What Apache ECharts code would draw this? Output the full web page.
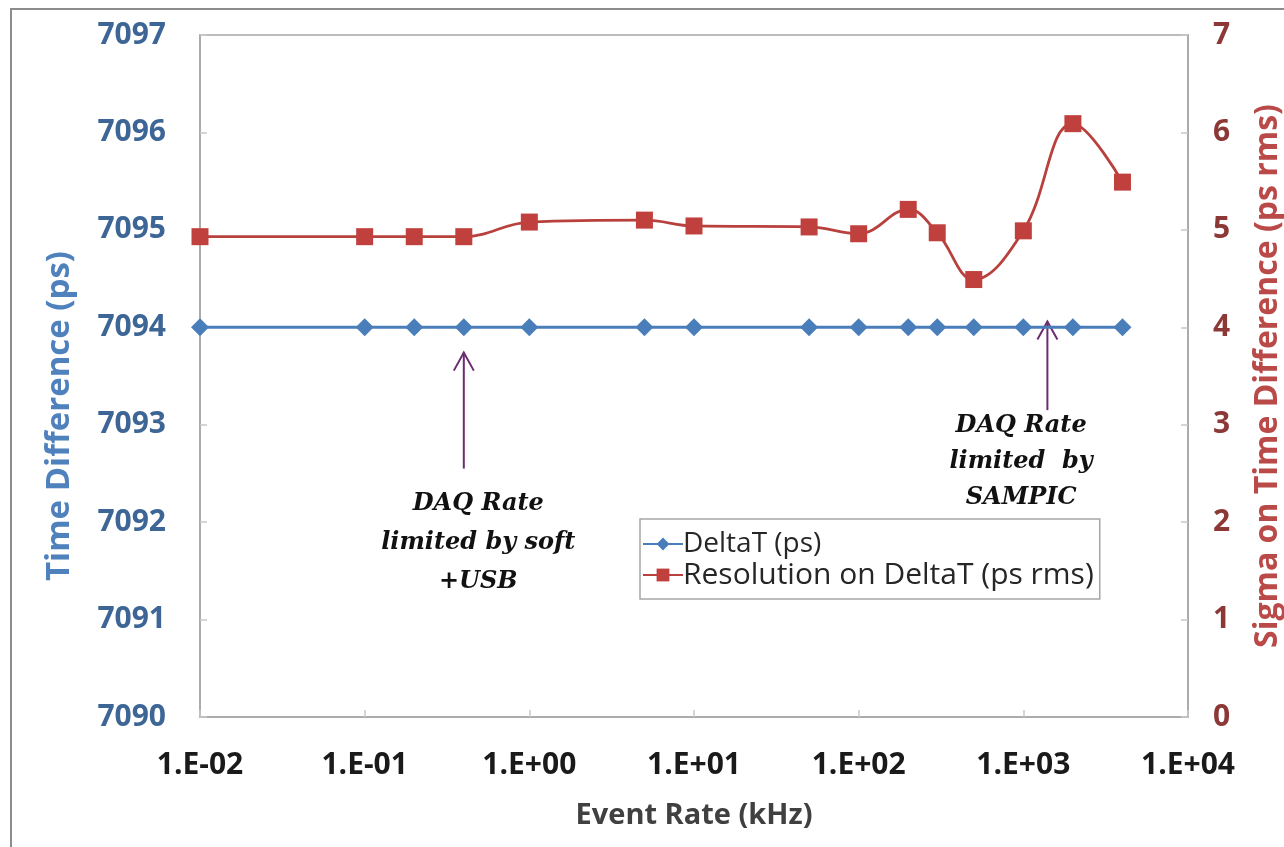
<!DOCTYPE html>
<html>
<head>
<meta charset="utf-8">
<script src="https://cdn.jsdelivr.net/npm/echarts@6/dist/echarts.min.js"></script>
<style>
  html, body { margin: 0; padding: 0; background: #ffffff; }
  #chart { width: 1284px; height: 847px; }
</style>
</head>
<body>
<div id="chart"></div>
<script>
// Event rates (kHz) at which the time difference was measured
const eventRates = [0.01, 0.1, 0.2, 0.4, 1, 5, 10, 50, 100, 200, 300, 500, 1000, 2000, 4000];
// Mean time difference between the two channels (ps)
const deltaT = [7094, 7094, 7094, 7094, 7094, 7094, 7094, 7094, 7094, 7094, 7094, 7094, 7094, 7094, 7094];
// RMS of the time difference (ps rms)
const resolution = [4.93, 4.93, 4.93, 4.93, 5.08, 5.10, 5.04, 5.03, 4.96, 5.21, 4.97, 4.49, 4.99, 6.09, 5.49];

// Axis ranges
const rateRange = [0.01, 10000];
const deltaRange = [7090, 7097];
const sigmaRange = [0, 7];

// Notes pointing at the rate limits: arrow x, arrow tip/tail on the DeltaT scale, text anchor
const notes = [
  { x: 0.4, tip: 7093.74, tail: 7092.55, textX: 0.49, textY: 7092.39, lineHeight: 39,
    text: 'DAQ Rate\nlimited by soft\n+USB' },
  { x: 1400, tip: 7094.06, tail: 7093.15, textX: 970, textY: 7093.17, lineHeight: 36,
    text: 'DAQ Rate\nlimited  by\nSAMPIC' }
];

const sans = '"Open Sans", "Liberation Sans", sans-serif';
const chart = echarts.init(document.getElementById('chart'), null, { renderer: 'canvas' });

function sciLabel(v) {
  const e = Math.round(Math.log10(v));
  const s = String(Math.abs(e)).padStart(2, '0');
  return '1.E' + (e < 0 ? '-' : '+') + s;
}

chart.setOption({
  backgroundColor: '#ffffff',
  animation: false,
  grid: {
    left: 200, right: 96, top: 35, bottom: 130,
    outerBoundsMode: 'none',
    containLabel: false,
    show: true, borderColor: '#a6a6a6', borderWidth: 1.5, backgroundColor: 'transparent'
  },
  legend: {
    left: 640, top: 519,
    orient: 'vertical',
    padding: [11, 6, 9, 2],
    itemGap: 2,
    itemWidth: 40,
    itemHeight: 16,
    borderColor: '#a6a6a6',
    borderWidth: 1.5,
    textStyle: { fontFamily: sans, fontSize: 28, color: '#262626', padding: [0, 0, 0, -5] },
    data: [
      { name: 'DeltaT (ps)' },
      { name: 'Resolution on DeltaT (ps rms)', textStyle: { fontSize: 30 } }
    ]
  },
  xAxis: {
    type: 'log',
    logBase: 10,
    min: rateRange[0],
    max: rateRange[1],
    splitNumber: 6,
    name: 'Event Rate (kHz)',
    nameLocation: 'middle',
    nameGap: 84,
    nameTextStyle: { fontFamily: sans, fontSize: 29, fontWeight: 'bold', color: '#404040' },
    axisLine: { show: true, lineStyle: { color: '#a6a6a6', width: 1.5 } },
    axisTick: { show: true, inside: true, length: 7, lineStyle: { color: '#c8c8c8', width: 1.5 } },
    minorTick: { show: false },
    splitLine: { show: false },
    axisLabel: {
      margin: 33,
      fontFamily: sans, fontSize: 30, fontWeight: 'bold', color: '#1a1a1a',
      formatter: sciLabel
    }
  },
  yAxis: [
    {
      type: 'value',
      min: deltaRange[0], max: deltaRange[1], interval: 1,
      name: 'Time Difference (ps)',
      nameLocation: 'middle',
      nameGap: 124,
      nameTextStyle: { fontFamily: sans, fontSize: 33, fontWeight: 'bold', color: '#4f81bd', padding: [0, 80, 0, 0] },
      axisLine: { show: true, lineStyle: { color: '#a6a6a6', width: 1.5 } },
      axisTick: { show: true, inside: true, length: 7, lineStyle: { color: '#c8c8c8', width: 1.5 } },
      splitLine: { show: false },
      axisLabel: {
        margin: 34, fontFamily: sans, fontSize: 30, fontWeight: 'bold', color: '#3d6595',
        formatter: v => String(v)
      }
    },
    {
      type: 'value',
      min: sigmaRange[0], max: sigmaRange[1], interval: 1,
      name: 'Sigma on Time Difference (ps rms)',
      nameLocation: 'middle',
      nameGap: 64,
      nameTextStyle: { fontFamily: sans, fontSize: 32, fontWeight: 'bold', color: '#b94a48' },
      axisLine: { show: true, lineStyle: { color: '#a6a6a6', width: 1.5 } },
      axisTick: { show: true, inside: true, length: 7, lineStyle: { color: '#c8c8c8', width: 1.5 } },
      splitLine: { show: false },
      axisLabel: { margin: 25, fontFamily: sans, fontSize: 30, fontWeight: 'bold', color: '#8c3836' }
    }
  ],
  series: [
    {
      name: 'DeltaT (ps)',
      type: 'line',
      yAxisIndex: 0,
      data: eventRates.map((r, i) => [r, deltaT[i]]),
      symbol: 'diamond',
      symbolSize: 18,
      itemStyle: { color: '#4a7ebb' },
      lineStyle: { color: '#4a7ebb', width: 3 },
      z: 3
    },
    {
      name: 'Resolution on DeltaT (ps rms)',
      type: 'line',
      yAxisIndex: 1,
      smooth: 0.4,
      data: eventRates.map((r, i) => [r, resolution[i]]),
      symbol: 'rect',
      symbolSize: 17,
      itemStyle: { color: '#c0403d' },
      lineStyle: { color: '#b8413e', width: 2.8 },
      z: 4
    }
  ]
});

// Outer frame, arrows and note texts placed through the axes' own scales
const graphics = [{
  type: 'rect',
  shape: { x: 11, y: 9, width: 1300, height: 900 },
  style: { fill: 'none', stroke: '#8c8c8c', lineWidth: 2 },
  silent: true
}];
notes.forEach(n => {
  const tip = chart.convertToPixel({ gridIndex: 0 }, [n.x, n.tip]);
  const tail = chart.convertToPixel({ gridIndex: 0 }, [n.x, n.tail]);
  const txt = chart.convertToPixel({ gridIndex: 0 }, [n.textX, n.textY]);
  const stroke = { stroke: '#6b2d72', lineWidth: 2, fill: 'none' };
  graphics.push({ type: 'line', shape: { x1: tail[0], y1: tail[1], x2: tip[0], y2: tip[1] }, style: stroke, silent: true });
  graphics.push({
    type: 'polyline',
    shape: { points: [[tip[0] - 10, tip[1] + 18], [tip[0], tip[1]], [tip[0] + 10, tip[1] + 18]] },
    style: stroke, silent: true
  });
  graphics.push({
    type: 'text',
    x: txt[0], y: txt[1],
    style: {
      text: n.text,
      fontFamily: '"DejaVu Serif", "Liberation Serif", serif',
      fontStyle: 'italic', fontWeight: 'bold', fontSize: 24,
      lineHeight: n.lineHeight,
      fill: '#111111',
      align: 'center', verticalAlign: 'top'
    },
    silent: true
  });
});
chart.setOption({ graphic: graphics });
</script>
</body>
</html>
